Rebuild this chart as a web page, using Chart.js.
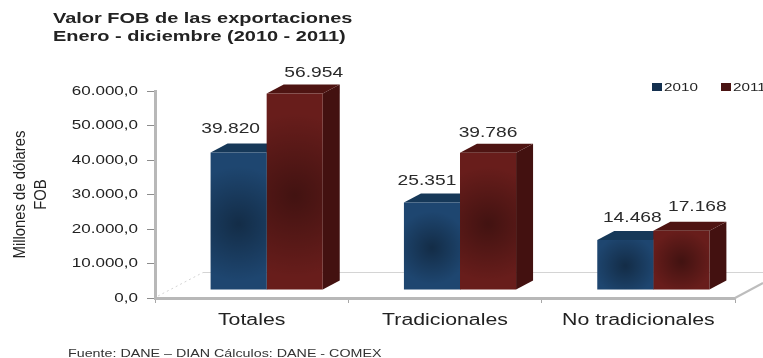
<!DOCTYPE html>
<html>
<head>
<meta charset="utf-8">
<title>Valor FOB de las exportaciones</title>
<style>
html, body { margin: 0; padding: 0; background: #fff; }
canvas { display: block; }
</style>
<script src="https://cdn.jsdelivr.net/npm/chart.js@4"></script>
</head>
<body>
<canvas id="myChart" width="763" height="358"></canvas>
<script>
const categories = ['Totales', 'Tradicionales', 'No tradicionales'];
const values2010 = [39820, 25351, 14468];
const values2011 = [56954, 39786, 17168];
const yTicks = [0, 10000, 20000, 30000, 40000, 50000, 60000];
const seriesNames = ['2010', '2011'];
const titleLines = ['Valor FOB de las exportaciones', 'Enero - diciembre (2010 - 2011)'];
const sourceText = 'Fuente: DANE – DIAN Cálculos: DANE - COMEX';

const FONT = '"Liberation Sans", Arial, sans-serif';
const depthX = 17, depthY = 9;    // 3D look of the bars
const shiftX = 15, shiftY = -8;   // bars stand on the floor, not on the axis

const faces = [
    { front: '#1e4670', top: '#163858', side: '#10263f', key: '#14304f' },
    { front: '#681d1b', top: '#4e1412', side: '#431110', key: '#4a1413' }
];

// value labels sit unevenly in the original: dx, dy from the top middle of the bar
const labelNudge = [
    [[-8, -20], [-5, -18], [7, -18]],
    [[19, -17], [0, -16], [16, -20]]
];

// the original is a stretched image, so all text is wider than normal
function wideText(ctx, text, x, y, stretch, font, color, align) {
    ctx.save();
    ctx.font = font;
    ctx.fillStyle = color;
    ctx.textAlign = align || 'left';
    ctx.textBaseline = 'alphabetic';
    ctx.translate(x, y);
    ctx.scale(stretch, 1);
    ctx.fillText(text, 0, 0);
    ctx.restore();
}

const floorPlugin = {
    id: 'floor',
    beforeDatasetsDraw(chart) {
        const ctx = chart.ctx, a = chart.chartArea;
        ctx.save();
        // back edge of the floor and its dotted left side
        ctx.strokeStyle = '#d4d4d4';
        ctx.lineWidth = 1;
        ctx.beginPath();
        ctx.moveTo(a.left + 48, a.bottom - 25.5);
        ctx.lineTo(763, a.bottom - 25.5);
        ctx.stroke();
        ctx.setLineDash([2, 3]);
        ctx.beginPath();
        ctx.moveTo(a.left + 3, a.bottom - 2);
        ctx.lineTo(a.left + 48, a.bottom - 25.5);
        ctx.stroke();
        ctx.setLineDash([]);
        // right side
        ctx.strokeStyle = '#bdbdbd';
        ctx.lineWidth = 2;
        ctx.beginPath();
        ctx.moveTo(a.right, a.bottom);
        ctx.lineTo(763, a.bottom - 15);
        ctx.stroke();
        ctx.restore();

        // top and side faces of the bars, moved along with the bars
        ctx.save();
        ctx.translate(shiftX, shiftY);
        chart.data.datasets.forEach((ds, i) => {
            chart.getDatasetMeta(i).data.forEach(bar => {
                const l = bar.x - bar.width / 2, r = bar.x + bar.width / 2;
                ctx.fillStyle = faces[i].side;
                ctx.beginPath();
                ctx.moveTo(r, bar.y);
                ctx.lineTo(r + depthX, bar.y - depthY);
                ctx.lineTo(r + depthX, bar.base - depthY);
                ctx.lineTo(r, bar.base);
                ctx.closePath();
                ctx.fill();
                ctx.fillStyle = faces[i].top;
                ctx.beginPath();
                ctx.moveTo(l, bar.y);
                ctx.lineTo(l + depthX, bar.y - depthY);
                ctx.lineTo(r + depthX, bar.y - depthY);
                ctx.lineTo(r, bar.y);
                ctx.closePath();
                ctx.fill();
            });
        });
        ctx.restore();
        ctx.save();
        ctx.translate(shiftX, shiftY);
    },
    afterDatasetsDraw(chart) {
        const ctx = chart.ctx;
        // dark soft spot in the middle of each front face
        chart.data.datasets.forEach((ds, i) => {
            chart.getDatasetMeta(i).data.forEach(bar => {
                const l = bar.x - bar.width / 2, h = bar.base - bar.y;
                const cy = bar.y + h * 0.52;
                const g = ctx.createRadialGradient(bar.x, cy, 1, bar.x, cy, Math.max(bar.width * 0.55, h * 0.42));
                g.addColorStop(0, 'rgba(0,0,0,0.36)');
                g.addColorStop(1, 'rgba(0,0,0,0)');
                ctx.fillStyle = g;
                ctx.fillRect(l, bar.y, bar.width, h);
            });
        });
        ctx.restore();
    }
};

const textPlugin = {
    id: 'texts',
    afterDraw(chart) {
        const ctx = chart.ctx;
        wideText(ctx, titleLines[0], 53, 23, 1.33, 'bold 15px ' + FONT, '#222');
        wideText(ctx, titleLines[1], 53, 41, 1.33, 'bold 15px ' + FONT, '#222');
        wideText(ctx, sourceText, 68, 357, 1.36, '10.5px ' + FONT, '#333');

        // value labels above each bar
        chart.data.datasets.forEach((ds, i) => {
            chart.getDatasetMeta(i).data.forEach((bar, j) => {
                const txt = ds.data[j].toLocaleString('de-DE');
                const x = bar.x + shiftX + labelNudge[i][j][0];
                const y = bar.y + shiftY + labelNudge[i][j][1];
                wideText(ctx, txt, x, y, 1.28, '15px ' + FONT, '#2a2a2a', 'center');
            });
        });

        // legend
        const keys = [652, 721];
        seriesNames.forEach((name, i) => {
            ctx.fillStyle = faces[i].key;
            ctx.fillRect(keys[i], 83, 10, 8);
            wideText(ctx, name, keys[i] + 12, 91, 1.45, '10.5px ' + FONT, '#222');
        });
    }
};

// same stretch for the text the scales draw themselves
function stretched(chart, draw, stretch) {
    return function (area) {
        const c = chart.ctx;
        const fill = c.fillText;
        c.fillText = function (t, x, y) {
            c.save();
            c.translate(x, y);
            c.scale(stretch, 1);
            fill.call(c, t, 0, 0);
            c.restore();
        };
        draw.call(this, area);
        delete c.fillText;
    };
}

const stretchPlugin = {
    id: 'tickStretch',
    beforeDraw(chart) {
        const { x, y } = chart.scales;
        if (y.stretched) return;
        x.drawLabels = stretched(chart, x.drawLabels, 1.33);
        y.drawLabels = stretched(chart, y.drawLabels, 1.26);
        y.drawTitle = stretched(chart, y.drawTitle, 0.9);   // this one is narrower
        y.stretched = true;
    }
};

const ctx = document.getElementById('myChart');

new Chart(ctx, {
    type: 'bar',
    data: {
        labels: categories,
        datasets: [
            { label: seriesNames[0], data: values2010, backgroundColor: faces[0].front },
            { label: seriesNames[1], data: values2011, backgroundColor: faces[1].front }
        ]
    },
    plugins: [floorPlugin, textPlugin, stretchPlugin],
    options: {
        responsive: false,
        animation: false,
        layout: { padding: { top: 91, right: 28, left: 0, bottom: 0 } },
        datasets: { bar: { categoryPercentage: 0.58, barPercentage: 1, clip: false } },
        plugins: {
            legend: { display: false },
            title: { display: false },
            tooltip: { enabled: false }
        },
        scales: {
            x: {
                grid: { display: true, drawOnChartArea: false, drawTicks: true, tickLength: 5, color: '#a8a8a8' },
                border: { color: '#b8b8b8', width: 3 },
                ticks: { color: '#222', font: { family: FONT, size: 16 }, padding: 8, maxRotation: 0 },
                afterFit(scale) { scale.height = 60; }
            },
            y: {
                min: 0,
                max: 60000,
                afterBuildTicks(scale) { scale.ticks = yTicks.map(v => ({ value: v })); },
                grid: { display: true, drawOnChartArea: false, drawTicks: true, tickLength: 8, color: '#8c8c8c' },
                border: { color: '#b8b8b8', width: 3 },
                ticks: {
                    color: '#222',
                    font: { family: FONT, size: 13.5 },
                    padding: 9,
                    callback: v => v.toLocaleString('de-DE', { minimumFractionDigits: 1, maximumFractionDigits: 1 })
                },
                title: {
                    display: true,
                    text: ['Millones de dólares', 'FOB'],
                    color: '#222',
                    font: { family: FONT, size: 16.5, lineHeight: 1.33 },
                    padding: { top: 9, bottom: 0 }
                },
                afterFit(scale) { scale.width = 155; }
            }
        }
    }
});
</script>
</body>
</html>
